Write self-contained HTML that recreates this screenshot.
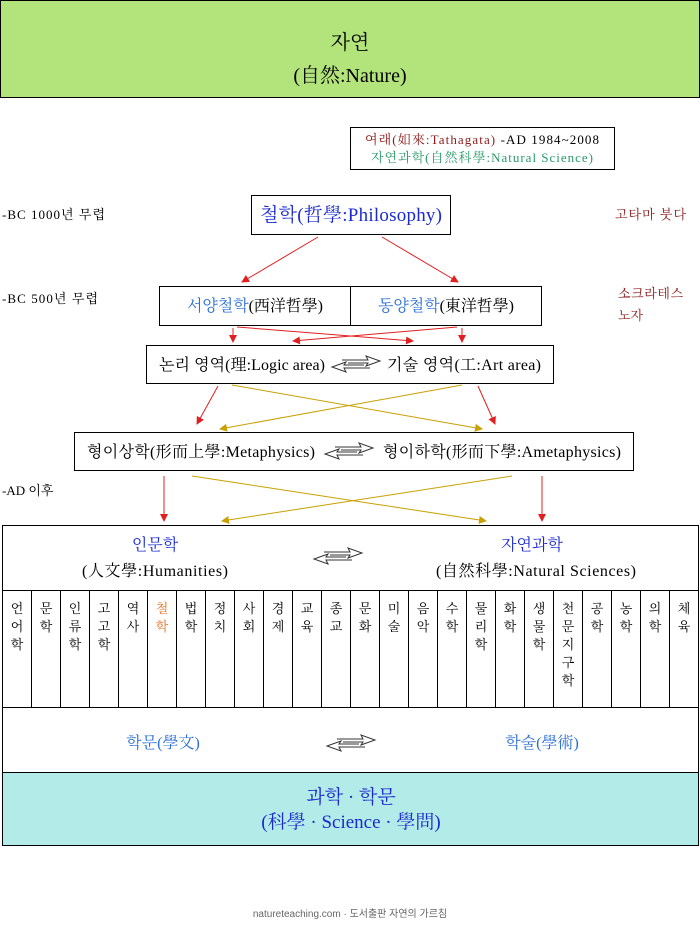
<!DOCTYPE html>
<html><head><meta charset="utf-8"><style>
html,body{margin:0;padding:0;background:#fff;}
svg{display:block;}
text{font-family:"Liberation Serif","Noto Serif CJK KR","Noto Serif CJK SC",serif;}
</style></head><body>
<svg width="700" height="929" viewBox="0 0 700 929" xmlns="http://www.w3.org/2000/svg">
<defs>
<marker id="ar" markerWidth="8" markerHeight="8" refX="7" refY="4" orient="auto" markerUnits="userSpaceOnUse"><path d="M0,0 L8,4 L0,8 Z" fill="#e02020"/></marker>
<marker id="ay" markerWidth="8" markerHeight="8" refX="7" refY="4" orient="auto" markerUnits="userSpaceOnUse"><path d="M0,0 L8,4 L0,8 Z" fill="#c8a000"/></marker>
<g id="dbl" fill="none" stroke="#333" stroke-width="1">
<path d="M-14,-4 L12,-4 L10,-8 L24,-3 L10,2 L12,-1 L-8,-1"/>
<path d="M14,4 L-12,4 L-10,8 L-24,3 L-10,-2 L-12,1 L8,1"/>
</g>
</defs>
<rect x="0.5" y="0.5" width="699" height="97" fill="#b3e47c" stroke="#000"/>
<text x="350" y="49" font-size="20" text-anchor="middle">자연</text>
<text x="350" y="82" font-size="20" text-anchor="middle">(自然:Nature)</text>

<rect x="350.5" y="127.5" width="264" height="42" fill="#fff" stroke="#000"/>
<text x="482" y="144" font-size="13" text-anchor="middle" textLength="234"><tspan fill="#8b1a1a">여래(如來:Tathagata)</tspan> -AD 1984~2008</text>
<text x="482" y="162" font-size="13" text-anchor="middle" fill="#2a9a6a" textLength="222">자연과학(自然科學:Natural Science)</text>

<text x="2" y="219" font-size="13" textLength="103">-BC 1000년 무렵</text>
<text x="2" y="303" font-size="13" textLength="96">-BC 500년 무렵</text>
<text x="2" y="495" font-size="13">-AD 이후</text>
<text x="615" y="219" font-size="13" fill="#8b1a1a" textLength="71">고타마 붓다</text>
<text x="618" y="298" font-size="13" fill="#8b1a1a" textLength="65">소크라테스</text>
<text x="618" y="320" font-size="13" fill="#8b1a1a">노자</text>

<rect x="251.5" y="195.5" width="199" height="39" fill="#fff" stroke="#000"/>
<text x="351" y="221" font-size="19" text-anchor="middle" fill="#1a2ad0" textLength="182">철학(哲學:Philosophy)</text>

<line x1="318" y1="237" x2="242" y2="282" stroke="#e02020" marker-end="url(#ar)"/>
<line x1="382" y1="237" x2="458" y2="282" stroke="#e02020" marker-end="url(#ar)"/>

<rect x="159.5" y="286.5" width="382" height="39" fill="#fff" stroke="#000"/>
<line x1="350.5" y1="286" x2="350.5" y2="326" stroke="#000"/>
<text x="255" y="311" font-size="16" text-anchor="middle" textLength="136"><tspan fill="#2b6fd6">서양철학</tspan>(西洋哲學)</text>
<text x="446" y="311" font-size="16" text-anchor="middle" textLength="136"><tspan fill="#2b6fd6">동양철학</tspan>(東洋哲學)</text>

<line x1="233" y1="328" x2="233" y2="342" stroke="#e02020" marker-end="url(#ar)"/>
<line x1="462" y1="328" x2="462" y2="342" stroke="#e02020" marker-end="url(#ar)"/>
<line x1="237" y1="327" x2="413" y2="341" stroke="#e02020" marker-end="url(#ar)"/>
<line x1="457" y1="327" x2="293" y2="341" stroke="#e02020" marker-end="url(#ar)"/>

<rect x="146.5" y="345.5" width="407" height="38" fill="#fff" stroke="#000"/>
<text x="159" y="370" font-size="16" textLength="166">논리 영역(理:Logic area)</text>
<text x="387" y="370" font-size="16" textLength="154">기술 영역(工:Art area)</text>
<use href="#dbl" x="356" y="364"/>

<line x1="218" y1="386" x2="197" y2="424" stroke="#e02020" marker-end="url(#ar)"/>
<line x1="478" y1="386" x2="495" y2="424" stroke="#e02020" marker-end="url(#ar)"/>
<line x1="232" y1="385" x2="482" y2="429" stroke="#c8a000" marker-end="url(#ay)"/>
<line x1="462" y1="385" x2="220" y2="429" stroke="#c8a000" marker-end="url(#ay)"/>

<rect x="74.5" y="432.5" width="559" height="38" fill="#fff" stroke="#000"/>
<text x="87" y="457" font-size="16" textLength="228">형이상학(形而上學:Metaphysics)</text>
<text x="383" y="457" font-size="16" textLength="238">형이하학(形而下學:Ametaphysics)</text>
<use href="#dbl" x="349" y="451"/>

<line x1="164" y1="476" x2="164" y2="521" stroke="#e02020" marker-end="url(#ar)"/>
<line x1="542" y1="476" x2="542" y2="521" stroke="#e02020" marker-end="url(#ar)"/>
<line x1="192" y1="476" x2="486" y2="521" stroke="#c8a000" marker-end="url(#ay)"/>
<line x1="512" y1="476" x2="222" y2="521" stroke="#c8a000" marker-end="url(#ay)"/>

<rect x="2.5" y="525.5" width="696" height="320" fill="#fff" stroke="#000"/>
<text x="155" y="550" font-size="16" text-anchor="middle" fill="#1a2ad0">인문학</text>
<text x="155" y="576" font-size="16" text-anchor="middle" textLength="146">(人文學:Humanities)</text>
<text x="532" y="550" font-size="16" text-anchor="middle" fill="#1a2ad0">자연과학</text>
<text x="536" y="576" font-size="16" text-anchor="middle" textLength="200">(自然科學:Natural Sciences)</text>
<use href="#dbl" x="338" y="556"/>
<line x1="2" y1="590.5" x2="698" y2="590.5" stroke="#000"/>
<line x1="2" y1="707.5" x2="698" y2="707.5" stroke="#000"/>
<line x1="2" y1="772.5" x2="698" y2="772.5" stroke="#000"/>
<g stroke="#000">
<line x1="31.5" y1="590" x2="31.5" y2="707"/><line x1="60.5" y1="590" x2="60.5" y2="707"/><line x1="89.5" y1="590" x2="89.5" y2="707"/><line x1="118.5" y1="590" x2="118.5" y2="707"/><line x1="147.5" y1="590" x2="147.5" y2="707"/><line x1="176.5" y1="590" x2="176.5" y2="707"/><line x1="205.5" y1="590" x2="205.5" y2="707"/><line x1="234.5" y1="590" x2="234.5" y2="707"/><line x1="263.5" y1="590" x2="263.5" y2="707"/><line x1="292.5" y1="590" x2="292.5" y2="707"/><line x1="321.5" y1="590" x2="321.5" y2="707"/><line x1="350.5" y1="590" x2="350.5" y2="707"/><line x1="379.5" y1="590" x2="379.5" y2="707"/><line x1="408.5" y1="590" x2="408.5" y2="707"/><line x1="437.5" y1="590" x2="437.5" y2="707"/><line x1="466.5" y1="590" x2="466.5" y2="707"/><line x1="495.5" y1="590" x2="495.5" y2="707"/><line x1="524.5" y1="590" x2="524.5" y2="707"/><line x1="553.5" y1="590" x2="553.5" y2="707"/><line x1="582.5" y1="590" x2="582.5" y2="707"/><line x1="611.5" y1="590" x2="611.5" y2="707"/><line x1="640.5" y1="590" x2="640.5" y2="707"/><line x1="669.5" y1="590" x2="669.5" y2="707"/>
</g>
<g font-size="13" text-anchor="middle">
<text x="17" y="613">언<tspan x="17" dy="18">어</tspan><tspan x="17" dy="18">학</tspan></text>
<text x="46" y="613">문<tspan x="46" dy="18">학</tspan></text>
<text x="75" y="613">인<tspan x="75" dy="18">류</tspan><tspan x="75" dy="18">학</tspan></text>
<text x="104" y="613">고<tspan x="104" dy="18">고</tspan><tspan x="104" dy="18">학</tspan></text>
<text x="133" y="613">역<tspan x="133" dy="18">사</tspan></text>
<text x="162" y="613" fill="#e07020">철<tspan x="162" dy="18">학</tspan></text>
<text x="191" y="613">법<tspan x="191" dy="18">학</tspan></text>
<text x="220" y="613">정<tspan x="220" dy="18">치</tspan></text>
<text x="249" y="613">사<tspan x="249" dy="18">회</tspan></text>
<text x="278" y="613">경<tspan x="278" dy="18">제</tspan></text>
<text x="307" y="613">교<tspan x="307" dy="18">육</tspan></text>
<text x="336" y="613">종<tspan x="336" dy="18">교</tspan></text>
<text x="365" y="613">문<tspan x="365" dy="18">화</tspan></text>
<text x="394" y="613">미<tspan x="394" dy="18">술</tspan></text>
<text x="423" y="613">음<tspan x="423" dy="18">악</tspan></text>
<text x="452" y="613">수<tspan x="452" dy="18">학</tspan></text>
<text x="481" y="613">물<tspan x="481" dy="18">리</tspan><tspan x="481" dy="18">학</tspan></text>
<text x="510" y="613">화<tspan x="510" dy="18">학</tspan></text>
<text x="539" y="613">생<tspan x="539" dy="18">물</tspan><tspan x="539" dy="18">학</tspan></text>
<text x="568" y="613">천<tspan x="568" dy="18">문</tspan><tspan x="568" dy="18">지</tspan><tspan x="568" dy="18">구</tspan><tspan x="568" dy="18">학</tspan></text>
<text x="597" y="613">공<tspan x="597" dy="18">학</tspan></text>
<text x="626" y="613">농<tspan x="626" dy="18">학</tspan></text>
<text x="655" y="613">의<tspan x="655" dy="18">학</tspan></text>
<text x="684" y="613">체<tspan x="684" dy="18">육</tspan></text>
</g>
<text x="163" y="748" font-size="16" text-anchor="middle" fill="#2b6fd6">학문(學文)</text>
<text x="542" y="748" font-size="16" text-anchor="middle" fill="#2b6fd6">학술(學術)</text>
<use href="#dbl" x="351" y="743"/>
<rect x="2.5" y="772.5" width="696" height="73" fill="#b2ebe8" stroke="#000"/>
<text x="351" y="803" font-size="19" text-anchor="middle" fill="#1a2ad0">과학 · 학문</text>
<text x="351" y="828" font-size="19" text-anchor="middle" fill="#1a2ad0">(科學 · Science · 學問)</text>
<text x="350" y="917" font-size="10" text-anchor="middle" fill="#666" style="font-family:'Liberation Sans','Noto Sans CJK KR',sans-serif">natureteaching.com · 도서출판 자연의 가르침</text>
</svg>
</body></html>
